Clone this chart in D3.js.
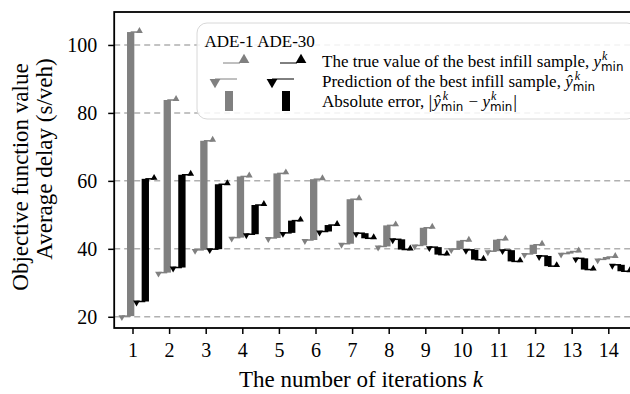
<!DOCTYPE html>
<html><head><meta charset="utf-8">
<script src="https://cdn.jsdelivr.net/npm/d3@7"></script>
<style>body{margin:0;background:#fff}</style>
</head><body>
<script>
const iterations = [1,2,3,4,5,6,7,8,9,10,11,12,13,14];
const trueADE1  = [103.8, 83.8, 71.8, 61.3, 62.2, 60.5, 54.6, 46.9, 46.2, 42.4, 42.7, 41.2, 39.2, 37.6];
const predADE1  = [20.2, 33.0, 39.7, 43.3, 43.2, 42.6, 41.5, 40.7, 41.0, 39.9, 39.3, 38.5, 38.6, 36.9];
const trueADE30 = [60.6, 61.8, 59.0, 52.9, 48.3, 47.0, 43.1, 39.8, 38.3, 36.8, 36.3, 34.9, 33.9, 33.4];
const predADE30 = [24.5, 34.5, 39.9, 44.3, 44.7, 45.1, 44.6, 42.8, 40.5, 39.7, 39.6, 37.9, 37.2, 35.3];
const yTicks = [20, 40, 60, 80, 100];
const seriesNames = ["ADE-1", "ADE-30"];

const W = 630, H = 394;
const M = {left: 114.2, right: 632, top: 12, bottom: 328};
const svg = d3.select("body").append("svg").attr("width", W).attr("height", H)
  .style("font-family", "'Liberation Serif', 'Times New Roman', serif");

const x = d3.scaleLinear().domain([0.5, 14.9]).range([M.left, M.left + 14.4*36.6]);
const y = d3.scaleLinear().domain([16.7, 109.7]).range([M.bottom, M.top]);

// grid
svg.append("g").selectAll("line").data(yTicks).join("line")
  .attr("x1", M.left).attr("x2", M.right).attr("y1", d => y(d)).attr("y2", d => y(d))
  .attr("stroke", "#b0b0b0").attr("stroke-width", 1.5).attr("stroke-dasharray", "6,4");

const series = [
  {name: seriesNames[0], t: trueADE1, p: predADE1, color: "#808080", off: -0.05},
  {name: seriesNames[1], t: trueADE30, p: predADE30, color: "#000000", off: 0.35}
];
const bw = 0.2, mo = 0.24;
const tri = d3.symbol().type(d3.symbolTriangle).size(20);

series.forEach(s => {
  const g = svg.append("g");
  const data = iterations.map((k, i) => ({k, t: s.t[i], p: s.p[i]}));
  g.selectAll("rect").data(data).join("rect")
    .attr("x", d => x(d.k + s.off - bw/2)).attr("width", x(bw) - x(0))
    .attr("y", d => y(Math.max(d.t, d.p))).attr("height", d => Math.abs(y(d.t) - y(d.p)))
    .attr("fill", s.color);
  g.selectAll("line.p").data(data).join("line").attr("class", "p")
    .attr("x1", d => x(d.k + s.off - mo)).attr("x2", d => x(d.k + s.off))
    .attr("y1", d => y(d.p)).attr("y2", d => y(d.p))
    .attr("stroke", s.color).attr("stroke-width", 1.5);
  g.selectAll("line.t").data(data).join("line").attr("class", "t")
    .attr("x1", d => x(d.k + s.off)).attr("x2", d => x(d.k + s.off + mo))
    .attr("y1", d => y(d.t)).attr("y2", d => y(d.t))
    .attr("stroke", s.color).attr("stroke-width", 1.5);
  g.selectAll("path.p").data(data).join("path").attr("class", "p")
    .attr("d", tri).attr("fill", s.color)
    .attr("transform", d => `translate(${x(d.k + s.off - mo)},${y(d.p) + 1}) rotate(180)`);
  g.selectAll("path.t").data(data).join("path").attr("class", "t")
    .attr("d", tri).attr("fill", s.color)
    .attr("transform", d => `translate(${x(d.k + s.off + mo)},${y(d.t) - 1})`);
});

// axes
const yAxis = svg.append("g").attr("transform", `translate(${M.left},0)`)
  .call(d3.axisLeft(y).tickValues(yTicks).tickSize(6).tickPadding(11));
const xAxis = svg.append("g").attr("transform", `translate(0,${M.bottom})`)
  .call(d3.axisBottom(x).tickValues(iterations).tickSize(6).tickPadding(9));
[yAxis, xAxis].forEach(a => {
  a.select(".domain").remove();
  a.selectAll("line").attr("stroke", "#000").attr("stroke-width", 1.5);
  a.selectAll("text").attr("font-size", 20).attr("font-family", "'Liberation Serif', serif").attr("fill", "#000");
});
// frame
svg.append("rect").attr("x", M.left).attr("y", M.top).attr("width", M.right - M.left)
  .attr("height", M.bottom - M.top).attr("fill", "none").attr("stroke", "#000").attr("stroke-width", 1.8);

// axis labels
const xl = svg.append("text").attr("x", 361).attr("y", 387).attr("text-anchor", "middle")
  .attr("font-size", 23);
xl.append("tspan").text("The number of iterations ");
xl.append("tspan").attr("font-style", "italic").text("k");

svg.append("text").attr("transform", "translate(28,177) rotate(-90)").attr("text-anchor", "middle")
  .attr("font-size", 23).text("Objective function value");
svg.append("text").attr("transform", "translate(52,159) rotate(-90)").attr("text-anchor", "middle")
  .attr("font-size", 23).text("Average delay (s/veh)");

// legend
const lg = svg.append("g");
lg.append("rect").attr("x", 197).attr("y", 23).attr("width", 440).attr("height", 96).attr("rx", 10)
  .attr("fill", "#fff").attr("fill-opacity", 0.85).attr("stroke", "#d8d8d8").attr("stroke-width", 1);
const cols = [229, 286];
const rowC = [41, 61, 81, 101];
lg.selectAll("text.title").data(series).join("text").attr("class", "title")
  .attr("x", (d, i) => cols[i]).attr("y", rowC[0] + 6).attr("text-anchor", "middle").attr("font-size", 17)
  .text(d => d.name);
const ltri = d3.symbol().type(d3.symbolTriangle).size(50);
series.forEach((s, i) => {
  const cx = cols[i];
  lg.append("line").attr("x1", cx - 6).attr("x2", cx + 11).attr("y1", rowC[1] + 2).attr("y2", rowC[1] + 2)
    .attr("stroke", s.color).attr("stroke-width", 1);
  lg.append("path").attr("fill", s.color).attr("transform", `translate(${cx + 15},${rowC[1] - 1})`).attr("d", ltri);
  lg.append("line").attr("x1", cx - 14).attr("x2", cx + 8).attr("y1", rowC[2] - 2).attr("y2", rowC[2] - 2)
    .attr("stroke", s.color).attr("stroke-width", 1);
  lg.append("path").attr("fill", s.color).attr("transform", `translate(${cx - 14},${rowC[2] + 1}) rotate(180)`).attr("d", ltri);
  lg.append("rect").attr("x", cx - 4).attr("y", rowC[3] - 10).attr("width", 8).attr("height", 20).attr("fill", s.color);
});

function rich(g, x0, yb, fs, pieces) {
  let cx = x0;
  pieces.forEach(p => {
    if (p.script) {
      const sup = g.append("text").attr("x", cx + (p.sx || 0)).attr("y", yb - 7).attr("font-size", fs * 0.7)
        .attr("font-style", "italic").text(p.sup);
      const sub = g.append("text").attr("x", cx).attr("y", yb + 4).attr("font-size", fs * 0.7)
        .attr("font-family", "'DejaVu Sans', sans-serif").text(p.sub);
      cx += Math.max(sup.node().getComputedTextLength() + (p.sx || 0), sub.node().getComputedTextLength()) + 1;
    } else {
      const t = g.append("text").attr("x", cx).attr("y", yb + (p.dy || 0)).attr("font-size", p.size || fs)
        .attr("font-style", p.italic ? "italic" : "normal").text(p.text.replace(/ /g, "\u00a0"));
      cx += t.node().getComputedTextLength() + (p.pad || 0);
    }
  });
}
const LFS = 17;
const ymin = [{text: "y", italic: true}, {script: true, sup: "k", sub: "min", sx: 1}];
const yhmin = [{text: "ŷ", italic: true}, {script: true, sup: "k", sub: "min", sx: 2}];
rich(lg, 322, rowC[1] + 6, LFS, [{text: "The true value of the best infill sample, "}].concat(ymin));
rich(lg, 322, rowC[2] + 6, LFS, [{text: "Prediction of the best infill sample, "}].concat(yhmin));
rich(lg, 322, rowC[3] + 6, LFS, [{text: "Absolute error, "}, {text: "|", size: 19, dy: 1, pad: 1}].concat(yhmin,
  [{text: " − "}], ymin, [{text: "|", size: 19, dy: 1}]));
</script>
</body></html>
